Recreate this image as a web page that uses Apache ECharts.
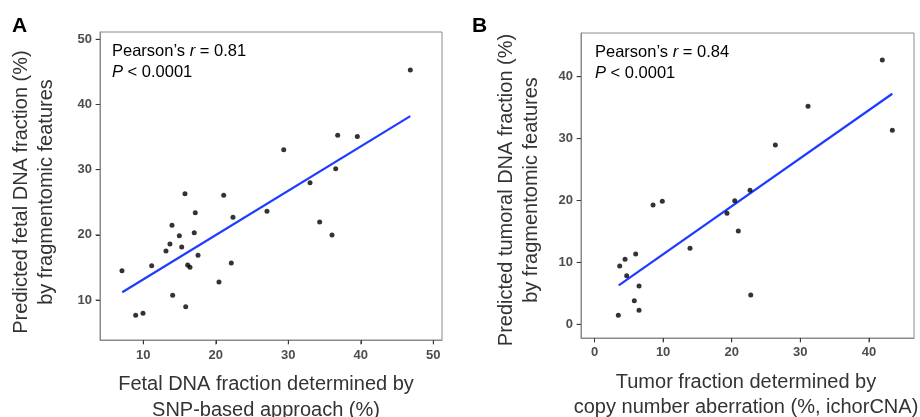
<!DOCTYPE html>
<html>
<head>
<meta charset="utf-8">
<script src="https://cdn.jsdelivr.net/npm/echarts@6/dist/echarts.min.js"></script>
<style>html,body{margin:0;padding:0;background:#fff;}#c{width:920px;height:417px;}</style>
</head>
<body>
<div id="c"></div>
<script>
// Panel A: fetal DNA fraction (SNP-based, %) vs predicted (%)
const xA = [7.06, 8.95, 9.96, 11.16, 13.13, 13.68, 13.96, 14.05, 14.97, 15.3, 15.75, 15.85, 16.12, 16.44, 17.03, 17.17, 17.55, 20.44, 21.09, 22.14, 22.37, 27.06, 29.37, 33.0, 34.33, 36.03, 36.54, 36.81, 39.52, 46.83];
const yA = [14.5, 7.65, 7.96, 15.26, 17.52, 18.59, 21.46, 10.72, 19.86, 18.13, 26.3, 8.97, 15.37, 15.01, 20.33, 23.4, 16.86, 12.76, 26.06, 15.67, 22.68, 23.6, 33.05, 28.0, 21.96, 19.97, 30.14, 35.26, 35.1, 45.28];
const fitAX = [7.1, 46.83];
const fitAY = [11.18, 38.22];
const ticksAX = [10, 20, 30, 40, 50];
const ticksAY = [10, 20, 30, 40, 50];

// Panel B: tumor fraction (ichorCNA, %) vs predicted (%)
const xB = [3.47, 3.67, 4.45, 4.69, 5.8, 6.0, 6.49, 6.49, 8.53, 9.88, 13.92, 19.31, 20.44, 20.96, 22.67, 22.77, 26.36, 31.12, 41.95, 43.41];
const yB = [1.45, 9.42, 10.5, 7.85, 3.81, 11.36, 6.19, 2.26, 19.27, 19.87, 12.28, 17.93, 19.97, 15.07, 21.65, 4.73, 28.97, 35.22, 42.7, 31.34];
const fitBX = [3.53, 43.41];
const fitBY = [6.3, 37.25];
const ticksBX = [0, 10, 20, 30, 40];
const ticksBY = [0, 10, 20, 30, 40];

// axis ranges (panel frame extents)
const rangeAX = [4.03, 51.2], rangeAY = [3.86, 51.12];
const rangeBX = [-1.97, 46.57], rangeBY = [-2.21, 47.06];

const FONT = "'Liberation Sans', Arial, Helvetica, sans-serif";
const zip = (a, b) => a.map((v, i) => [v, b[i]]);
const TICK = '#3a3a3a';

function axis(gridIndex, range, ticks, pos, margin) {
  return {
    type: 'value', gridIndex, min: range[0], max: range[1], position: pos, z: 5,
    splitLine: { show: false },
    axisLine: { show: true, onZero: false, lineStyle: { color: '#8a8a8a', width: 1 } },
    axisTick: { show: true, inside: false, length: 4, customValues: ticks, lineStyle: { color: TICK, width: 1 } },
    axisLabel: { customValues: ticks, color: '#4d4d4d', fontWeight: 'bold', fontSize: 13, fontFamily: FONT, margin: margin }
  };
}

// explicit tick marks drawn through the axes (outside the frame)
function tickSeries(g, ticks, fixed, dir) {
  const data = ticks.map(t => dir === 'x' ? [t, fixed] : [fixed, t]);
  return {
    type: 'scatter', xAxisIndex: g, yAxisIndex: g, data, silent: true, clip: false, z: 6,
    symbol: 'rect', symbolSize: dir === 'x' ? [1, 4] : [4, 1],
    symbolOffset: dir === 'x' ? [0, 2.5] : [-2.5, 0],
    itemStyle: { color: TICK }
  };
}

const annot = (r) => '{n|Pearson\u2019s }{i|r}{n| = ' + r + '}\n{i|P}{n| < 0.0001}';
const rich = {
  n: { fontSize: 16.5, fontFamily: FONT, fill: '#000', lineHeight: 21 },
  i: { fontSize: 16.5, fontFamily: FONT, fontStyle: 'italic', fill: '#000', lineHeight: 21 }
};
const titleFont = '20px ' + FONT;

const option = {
  animation: false,
  backgroundColor: '#fff',
  grid: [
    { left: 100, top: 32, width: 342, height: 308, show: true, borderColor: '#8a8a8a', borderWidth: 1, backgroundColor: 'transparent' },
    { left: 581, top: 33, width: 333, height: 305, show: true, borderColor: '#8a8a8a', borderWidth: 1, backgroundColor: 'transparent' }
  ],
  xAxis: [axis(0, rangeAX, ticksAX, 'bottom', 9), axis(1, rangeBX, ticksBX, 'bottom', 8)],
  yAxis: [axis(0, rangeAY, ticksAY, 'left', 8), axis(1, rangeBY, ticksBY, 'left', 8)],
  series: [
    { type: 'scatter', xAxisIndex: 0, yAxisIndex: 0, data: zip(xA, yA), symbolSize: 5, itemStyle: { color: '#000' }, z: 3 },
    { type: 'line', xAxisIndex: 0, yAxisIndex: 0, data: zip(fitAX, fitAY), showSymbol: false, symbol: 'none', lineStyle: { color: '#1e3cff', width: 2.2 }, z: 2 },
    { type: 'scatter', xAxisIndex: 1, yAxisIndex: 1, data: zip(xB, yB), symbolSize: 5, itemStyle: { color: '#000' }, z: 3 },
    { type: 'line', xAxisIndex: 1, yAxisIndex: 1, data: zip(fitBX, fitBY), showSymbol: false, symbol: 'none', lineStyle: { color: '#1e3cff', width: 2.2 }, z: 2 },
    tickSeries(0, ticksAX, rangeAY[0], 'x'),
    tickSeries(0, ticksAY, rangeAX[0], 'y'),
    tickSeries(1, ticksBX, rangeBY[0], 'x'),
    tickSeries(1, ticksBY, rangeBX[0], 'y')
  ],
  graphic: [
    { type: 'text', left: 12, top: 16, style: { text: 'A', font: 'bold 21px ' + FONT, fill: '#000' } },
    { type: 'text', left: 472, top: 16, style: { text: 'B', font: 'bold 21px ' + FONT, fill: '#000' } },
    { type: 'text', x: 112, y: 41, z: 10, style: { text: annot('0.81'), rich: rich, font: '16.5px ' + FONT, fill: '#000' } },
    { type: 'text', x: 595, y: 42, z: 10, style: { text: annot('0.84'), rich: rich, font: '16.5px ' + FONT, fill: '#000' } },
    { type: 'text', x: 34, y: 192, rotation: Math.PI / 2,
      style: { text: 'Predicted fetal DNA fraction (%)\nby fragmentomic features', font: titleFont, fill: '#333', align: 'center', verticalAlign: 'middle', lineHeight: 25 } },
    { type: 'text', x: 266, y: 397,
      style: { text: 'Fetal DNA fraction determined by\nSNP-based approach (%)', font: titleFont, fill: '#333', align: 'center', verticalAlign: 'middle', lineHeight: 26 } },
    { type: 'text', x: 519, y: 190, rotation: Math.PI / 2,
      style: { text: 'Predicted tumoral DNA fraction (%)\nby fragmentomic features', font: titleFont, fill: '#333', align: 'center', verticalAlign: 'middle', lineHeight: 25 } },
    { type: 'text', x: 746, y: 395,
      style: { text: 'Tumor fraction determined by\ncopy number aberration (%, ichorCNA)', font: titleFont, fill: '#333', align: 'center', verticalAlign: 'middle', lineHeight: 25 } }
  ]
};
echarts.init(document.getElementById('c'), null, { renderer: 'canvas' }).setOption(option);
</script>
</body>
</html>
